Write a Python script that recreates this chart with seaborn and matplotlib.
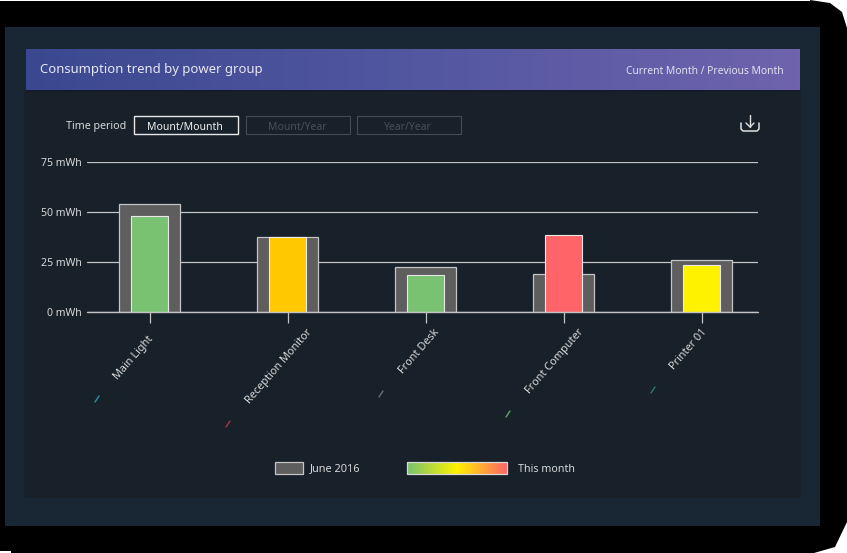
import numpy as np
import seaborn as sns
import matplotlib.pyplot as plt
from matplotlib.patches import Rectangle, Polygon
from matplotlib.colors import LinearSegmentedColormap
from matplotlib.transforms import ScaledTranslation

groups = ['Main Light', 'Reception Monitor', 'Front Desk', 'Front Computer', 'Printer 01']
june_2016 = [54, 37.7, 22.7, 19.2, 26.2]
this_month = [48.2, 37.7, 18.5, 38.5, 23.5]
month_colors = ['#78c272', '#ffc800', '#78c272', '#ff6469', '#fff200']
y_ticks = [0, 25, 50, 75]
y_labels = ['0 mWh', '25 mWh', '50 mWh', '75 mWh']
legend_colors = ['#78c272', '#fff200', '#ff6469']
dash_colors = ['#2f8fa8', '#a83a4c', '#6a6f80', '#5fa86a', '#2f7a68']

W, H = 847, 553
sns.set_theme(style='white')
plt.rcParams['font.family'] = ['Noto Sans', 'DejaVu Sans']

fig = plt.figure(figsize=(W / 100, H / 100), dpi=100, facecolor='black')

# backdrop in pixel coordinates
bg = fig.add_axes([0, 0, 1, 1], zorder=0)
bg.set_xlim(0, W)
bg.set_ylim(H, 0)
bg.axis('off')
bg.add_patch(Rectangle((5, 27), 815, 499, fc='#192734', ec='none'))
bg.add_patch(Rectangle((24, 90), 777, 408, fc='#18202a', ec='none'))

# corners of the screenshot
bg.add_patch(Polygon([(810, 0), (847, 0), (847, 28), (842, 12), (830, 3)], fc='white', ec='none'))
bg.add_patch(Polygon([(847, 522), (847, 553), (814, 553), (835, 547)], fc='white', ec='none'))
bg.add_patch(Rectangle((0, 551), 11, 2, fc='white', ec='none'))
bg.add_patch(Rectangle((0, 0), 810, 1, fc='white', ec='none'))

header = LinearSegmentedColormap.from_list('header', ['#3b4890', '#5257a0', '#6f63ad'])
bg.imshow(np.linspace(0, 1, 256).reshape(1, -1), cmap=header, extent=(26, 800, 90, 49), aspect='auto', zorder=2)
bg.add_patch(Rectangle((26, 90), 774, 2, fc='#151b2c', ec='none', zorder=2))
bg.set_xlim(0, W)
bg.set_ylim(H, 0)
bg.text(40, 69, 'Consumption trend by power group', color='#e8e8f4', fontsize=9.45, va='center', zorder=3)
bg.text(784, 71, 'Current Month / Previous Month', color='#e0e0f0', fontsize=7.4, va='center', ha='right', zorder=3)

# time period buttons
bg.text(126, 126, 'Time period', color='#d8d8d8', fontsize=7.7, va='center', ha='right')
buttons = [('Mount/Mounth', 134, '#e8e8e8', '#f0f0f0', 1.0), ('Mount/Year', 246, '#464b53', '#4a4f57', 0.8),
           ('Year/Year', 357, '#464b53', '#4a4f57', 0.8)]
for label, left, edge, text_color, lw in buttons:
    bg.add_patch(Rectangle((left, 116), 104, 18, fc='none', ec=edge, lw=lw))
    bg.text(left + 51, 127, label, color=text_color, fontsize=7.5, va='center', ha='center')

# download icon
bg.plot([750, 750], [115, 127], color='#e0e0e0', lw=1)
bg.plot([746, 750, 754], [123, 127, 123], color='#e0e0e0', lw=1)
bg.plot([741, 741, 743, 757, 759, 759], [123, 129, 131, 131, 129, 123], color='#e0e0e0', lw=1.1)

# the chart, categories at 149.5 + 138 * i px
ax = fig.add_axes([87 / W, 1 - 312 / H, (758 - 87) / W, 150 / H], zorder=1)
ax.patch.set_alpha(0)
sns.barplot(x=groups, y=june_2016, ax=ax, color='#5e5e5e', width=0.435, saturation=1,
            edgecolor='#c4c4c4', linewidth=0.9, zorder=2)
sns.barplot(x=groups, y=this_month, hue=groups, palette=month_colors, legend=False, ax=ax, width=0.27,
            saturation=1, edgecolor='#e8e8e8', linewidth=0.8, zorder=3)
ax.set_xlim((87 - 149.5) / 138, (758 - 149.5) / 138)
ax.set_ylim(0, 75)
ax.set_yticks(y_ticks, y_labels)
ax.grid(False)
for t in y_ticks:
    ax.axhline(t, color='#c4c4c4', lw=0.9, zorder=1)
sns.despine(ax=ax, left=True, top=True, right=True, bottom=True)
ax.axhline(0, color='#c4c4c4', lw=1, zorder=4, clip_on=False)
ax.tick_params(axis='y', length=0, pad=4, labelsize=7.6, labelcolor='#d8d8d8')
ax.tick_params(axis='x', length=8, width=0.9, color='#c4c4c4', pad=7, bottom=True)
ax.set_xticks(range(len(groups)), groups, rotation=49, ha='right', va='top', rotation_mode='anchor',
              fontsize=7.9, color='#d8d8d8')

# the labels sit at slightly different offsets in the original
label_dx = [-2, 19, 8, 14, 0]
label_dy = [-1, 6, 6, 6, 6]
for lab, dx, dy in zip(ax.get_xticklabels(), label_dx, label_dy):
    lab.set_transform(lab.get_transform() + ScaledTranslation(dx / 100, dy / 100, fig.dpi_scale_trans))

# small coloured dashes under the labels
dash_x = [97, 228, 381, 508, 653]
dash_y = [399, 424, 394, 414, 390]
for x, y, c in zip(dash_x, dash_y, dash_colors):
    bg.plot([x - 2, x + 2], [y + 3, y - 3], color=c, lw=1)

# legend
bg.add_patch(Rectangle((275, 462), 28, 12, fc='#5e5e5e', ec='#c4c4c4', lw=0.9))
bg.text(310, 469, 'June 2016', color='#d8d8d8', fontsize=7.9, va='center')
legend_cmap = LinearSegmentedColormap.from_list('legend', legend_colors)
bg.imshow(np.linspace(0, 1, 256).reshape(1, -1), cmap=legend_cmap, extent=(407, 507, 474, 462), aspect='auto', zorder=2)
bg.add_patch(Rectangle((407, 462), 100, 12, fc='none', ec='#d8d8d8', lw=0.9, zorder=3))
bg.text(518, 469, 'This month', color='#d8d8d8', fontsize=7.7, va='center')
bg.set_xlim(0, W)
bg.set_ylim(H, 0)

fig.savefig('out.png', dpi=100, facecolor='black')
